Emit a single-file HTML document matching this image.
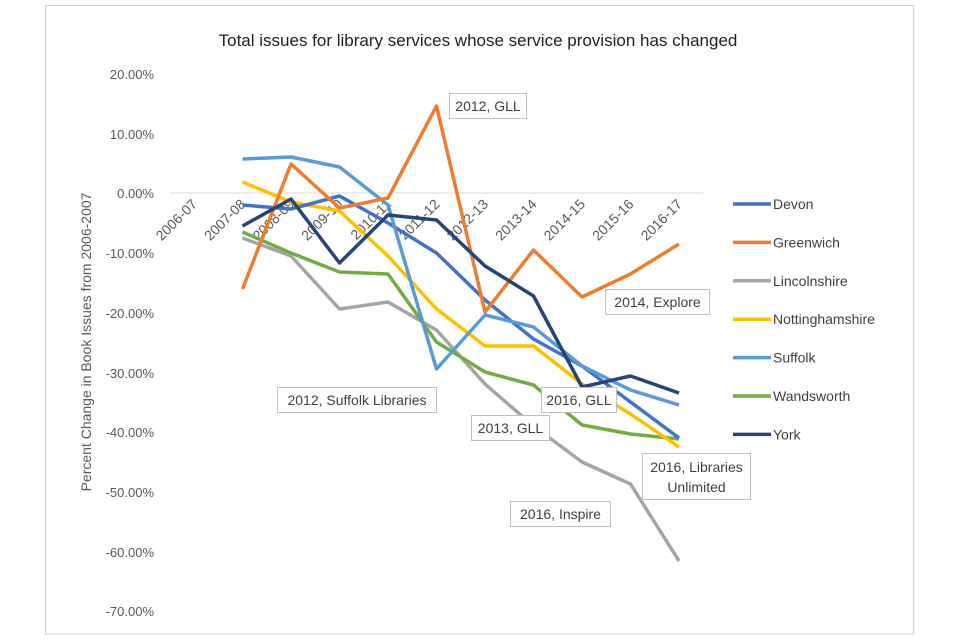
<!DOCTYPE html>
<html><head><meta charset="utf-8"><style>
body{margin:0;background:#fff;}
svg{display:block;font-family:"Liberation Sans",sans-serif;}
</style></head><body>
<svg width="960" height="640" viewBox="0 0 960 640">
<rect x="45.5" y="5.5" width="868" height="628.5" fill="#fff" stroke="#d0d0d0"/>
<text x="478" y="46" font-size="17" text-anchor="middle" fill="#222">Total issues for library services whose service provision has changed</text>
<line x1="170" y1="193" x2="703" y2="193" stroke="#d9d9d9" stroke-width="1"/>
<g font-size="13" fill="#595959" text-anchor="end">
<text x="154" y="79">20.00%</text>
<text x="154" y="139">10.00%</text>
<text x="154" y="198">0.00%</text>
<text x="154" y="258">-10.00%</text>
<text x="154" y="318">-20.00%</text>
<text x="154" y="378">-30.00%</text>
<text x="154" y="437">-40.00%</text>
<text x="154" y="497">-50.00%</text>
<text x="154" y="557">-60.00%</text>
<text x="154" y="616">-70.00%</text>
</g>
<text transform="translate(91,342) rotate(-90)" font-size="14" fill="#595959" text-anchor="middle">Percent Change in Book Issues  from 2006-2007</text>
<g font-size="14" fill="#595959" text-anchor="end">
<text transform="translate(198,205) rotate(-45)">2006-07</text>
<text transform="translate(246.5,205) rotate(-45)">2007-08</text>
<text transform="translate(295,205) rotate(-45)">2008-09</text>
<text transform="translate(343.5,205) rotate(-45)">2009-10</text>
<text transform="translate(392,205) rotate(-45)">2010-11</text>
<text transform="translate(440.5,205) rotate(-45)">2011-12</text>
<text transform="translate(489,205) rotate(-45)">2012-13</text>
<text transform="translate(537.5,205) rotate(-45)">2013-14</text>
<text transform="translate(586,205) rotate(-45)">2014-15</text>
<text transform="translate(634.5,205) rotate(-45)">2015-16</text>
<text transform="translate(683,205) rotate(-45)">2016-17</text>
</g>
<g fill="none" stroke-width="3.5" stroke-linejoin="round">
<polyline stroke="#A5A5A5" points="242.5,238 291,256 339.5,309 388,302 436.5,330 485,384 533.5,426 582,462 630.5,484 679,561"/>
<polyline stroke="#70AD47" points="242.5,232 291,253 339.5,272 388,274 436.5,342 485,372 533.5,385 582,425 630.5,434 679,439"/>
<polyline stroke="#FFC000" points="242.5,182 291,202 339.5,211 388,256 436.5,309 485,346 533.5,346 582,384 630.5,414 679,447"/>
<polyline stroke="#4472C4" points="242.5,205 291,209 339.5,196 388,223 436.5,253 485,300 533.5,339 582,366 630.5,402 679,438"/>
<polyline stroke="#5B9BD5" points="242.5,159 291,157 339.5,167 388,205 436.5,369 485,315 533.5,327 582,366 630.5,390 679,405"/>
<polyline stroke="#ED7D31" points="242.5,289 291,164 339.5,208 388,198 436.5,106 485,312 533.5,250 582,297 630.5,274 679,244"/>
<polyline stroke="#264478" points="242.5,226 291,199 339.5,263 388,215 436.5,220 485,266 533.5,296 582,387 630.5,376 679,393"/>
</g>
<g font-size="14" fill="#404040">
<line x1="733" y1="204" x2="771" y2="204" stroke="#4472C4" stroke-width="3.5"/><text x="773" y="209">Devon</text>
<line x1="733" y1="242.4" x2="771" y2="242.4" stroke="#ED7D31" stroke-width="3.5"/><text x="773" y="247.4">Greenwich</text>
<line x1="733" y1="280.8" x2="771" y2="280.8" stroke="#A5A5A5" stroke-width="3.5"/><text x="773" y="285.8">Lincolnshire</text>
<line x1="733" y1="319.2" x2="771" y2="319.2" stroke="#FFC000" stroke-width="3.5"/><text x="773" y="324.2">Nottinghamshire</text>
<line x1="733" y1="357.6" x2="771" y2="357.6" stroke="#5B9BD5" stroke-width="3.5"/><text x="773" y="362.6">Suffolk</text>
<line x1="733" y1="396" x2="771" y2="396" stroke="#70AD47" stroke-width="3.5"/><text x="773" y="401">Wandsworth</text>
<line x1="733" y1="434.4" x2="771" y2="434.4" stroke="#264478" stroke-width="3.5"/><text x="773" y="439.4">York</text>
</g>
<g font-size="14" fill="#404040" text-anchor="middle">
<rect x="449.5" y="93.5" width="77" height="25" fill="#fff" stroke="#bfbfbf"/><text x="488" y="111">2012, GLL</text>
<rect x="605.5" y="289.5" width="104" height="25" fill="#fff" stroke="#bfbfbf"/><text x="657.5" y="307">2014, Explore</text>
<rect x="277.5" y="387.5" width="159" height="25" fill="#fff" stroke="#bfbfbf"/><text x="357" y="405">2012, Suffolk Libraries</text>
<rect x="541.5" y="387.5" width="75" height="25" fill="#fff" stroke="#bfbfbf"/><text x="579" y="405">2016, GLL</text>
<rect x="471.5" y="415.5" width="78" height="25" fill="#fff" stroke="#bfbfbf"/><text x="510.5" y="433">2013, GLL</text>
<rect x="642.5" y="453.5" width="108" height="46" fill="#fff" stroke="#bfbfbf"/><text x="696.5" y="472">2016, Libraries</text><text x="696.5" y="492">Unlimited</text>
<rect x="510.5" y="501.5" width="100" height="25" fill="#fff" stroke="#bfbfbf"/><text x="560.5" y="519">2016, Inspire</text>
</g>
</svg>
</body></html>
